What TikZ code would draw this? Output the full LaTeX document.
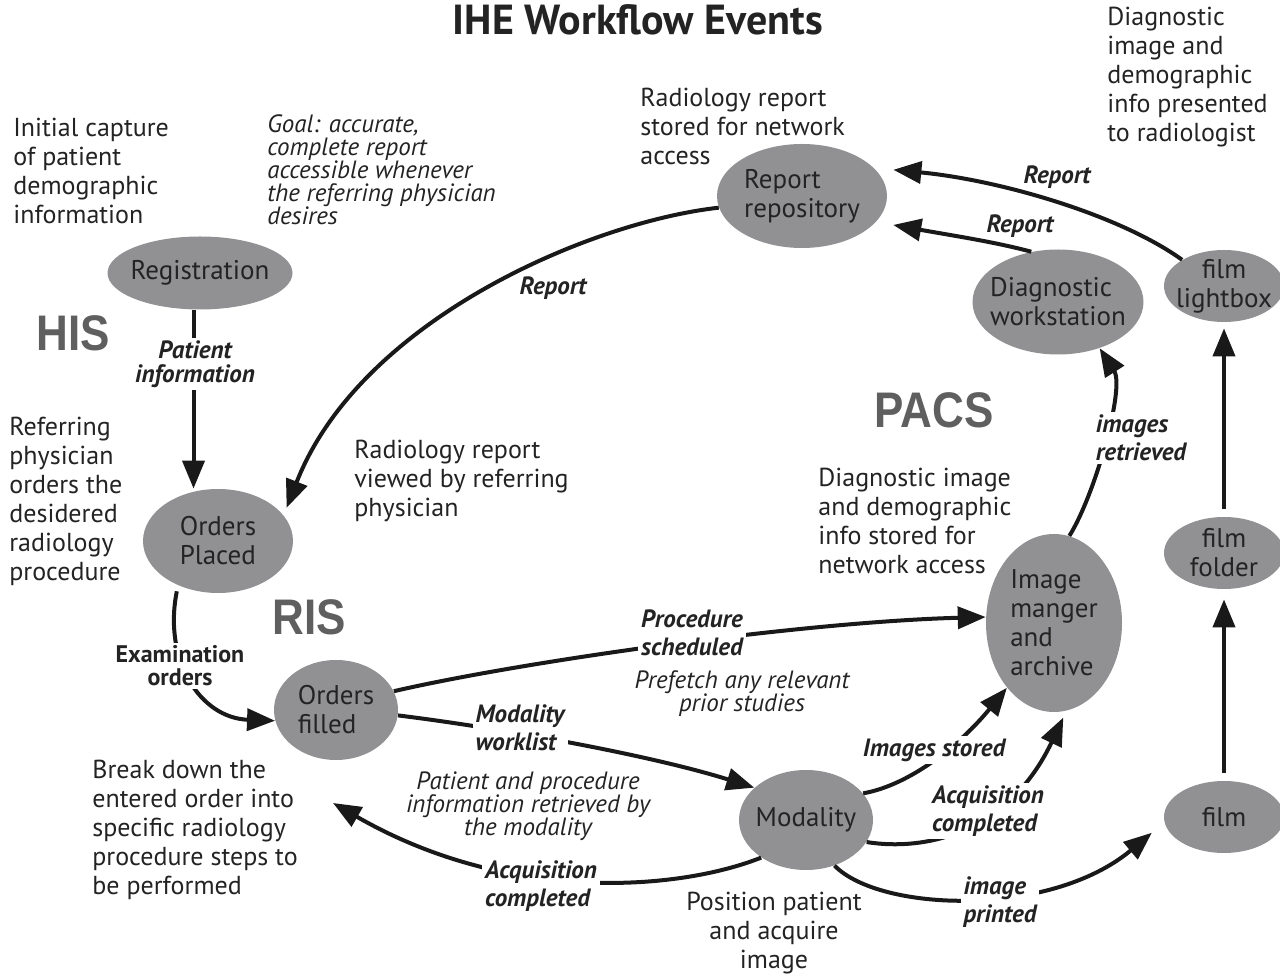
\documentclass[tikz,border=0pt]{standalone}
\usepackage{fontspec}
\usepackage{graphicx}
\setmainfont{PT Sans}
\newfontfamily\sysfont{Liberation Sans}
\usetikzlibrary{arrows.meta,shapes.geometric,calc}
\definecolor{nodegray}{RGB}{145,145,148}
\definecolor{txtdark}{RGB}{35,35,35}
\definecolor{sysgray}{RGB}{95,95,95}
\definecolor{linec}{RGB}{25,25,25}
\begin{document}
\begin{tikzpicture}[x=0.5pt,y=-0.5pt,
  ev/.style={ellipse, fill=nodegray, text=txtdark, inner sep=-8pt, font=\fontsize{13.5}{14.5}\selectfont, align=left},
  evc/.style={ev, align=center},
  note/.style={text=txtdark, font=\fontsize{13}{14.5}\selectfont, align=left, inner sep=0pt},
  inote/.style={text=txtdark, font=\fontsize{12.5}{11.5}\selectfont\itshape, align=left, inner sep=0pt},
  lab/.style={text=txtdark, font=\fontsize{12.5}{14}\selectfont\bfseries\itshape, align=left, inner sep=1.5pt, fill=white},
  sys/.style={text=sysgray, font=\sysfont\bfseries\fontsize{25}{25}\selectfont, inner sep=0pt},
  arr/.style={draw=linec, line width=2pt, -{Triangle[length=14pt,width=11pt]}},
]
\useasboundingbox (0,0) rectangle (1280,977);

% title
\node[text=txtdark, font=\fontsize{21}{22}\selectfont\bfseries] (title) at (638,20) {IHE Workflow Events};

% event nodes
\node[ev, minimum width=92.5pt, minimum height=36.5pt] (reg) at (200,273) {Registration};
\node[ev, minimum width=75pt, minimum height=52pt] (op) at (218,541) {Orders\\Placed};
\node[ev, minimum width=62pt, minimum height=50pt] (of) at (336,710) {Orders\\filled};
\node[ev, minimum width=85pt, minimum height=52pt] (rr) at (802,196) {Report\\repository};
\node[ev, minimum width=85.5pt, minimum height=52.5pt] (dw) at (1058,302) {Diagnostic\\workstation};
\node[evc, minimum width=60pt, minimum height=36pt] (lb) at (1224,286) {film\\lightbox};
\node[evc, minimum width=60pt, minimum height=36pt] (ff) at (1224,553) {film\\folder};
\node[evc, minimum width=60pt, minimum height=36pt] (fm) at (1224,817) {film};
\node[ev, minimum width=68pt, minimum height=89pt] (ima) at (1054,623) {Image\\manger\\and\\archive};
\node[ev, minimum width=67pt, minimum height=50pt] (mod) at (806,820) {Modality};

% system labels
\node[sys] (his) at (73,333) {\scalebox{0.88}[1]{HIS}};
\node[sys] (ris) at (309,617) {\scalebox{0.88}[1]{RIS}};
\node[sys] (pacs) at (934,410) {\scalebox{0.88}[1]{PACS}};

% notes
\node[note, anchor=west] (n1) at (13,171) {Initial capture\\of patient\\demographic\\information};
\node[inote, anchor=west] (n2) at (267,170) {Goal: accurate,\\complete report\\accessible whenever\\the referring physician\\desires};
\node[note, anchor=west] (n3) at (640,126) {Radiology report\\stored for network\\access};
\node[note, anchor=west] (n4) at (1107,77) {Diagnostic\\image and\\demographic\\info presented\\to radiologist};
\node[note, anchor=west] (n5) at (9,501) {Referring\\physician\\orders the\\desidered\\radiology\\procedure};
\node[note, anchor=west] (n6) at (354,481) {Radiology report\\viewed by referring\\physician};
\node[note, anchor=west] (n7) at (818,521) {Diagnostic image\\and demographic\\info stored for\\network access};
\node[note, anchor=west] (n8) at (92,830) {Break down the\\entered order into\\specific radiology\\procedure steps to\\be performed};
\node[note, align=center] (n9) at (774,933) {Position patient\\and acquire\\image};
\node[inote, align=center] (n10) at (742,694) {Prefetch any relevant\\prior studies};
\node[inote, align=center] (n11) at (528,806) {Patient and procedure\\information retrieved by\\the modality};
\coordinate (bdtip) at (333,803);

% connectors
\draw[arr] (reg.260) -- (reg.260 |- op.north);
\draw[arr] (rr.188) .. controls (590,222) and (360,320) .. ($(op.25)+(6,-4)$);
\draw[arr] (dw.118) .. controls (995,242) and (955,236) .. ($(rr.-15)+(13,8)$);
\draw[arr] (lb.148) .. controls (1120,215) and (1000,180) .. ($(rr.16)+(14,-4)$);
\draw[arr] (ima.80) .. controls (1095,495) and (1125,388) .. (dw.-48);
\draw[arr, shorten <=4pt, shorten >=3pt] (ff.north) -- (lb.south);
\draw[arr, shorten <=4pt, shorten >=5pt] (fm.north) -- (ff.south);
\draw[arr, shorten <=3pt] (op.228) .. controls (163,660) and (200,718) .. (of.190);
\draw[arr] (of.18) .. controls (520,662) and (800,622) .. (ima.175);
\draw[arr] (of.-5) .. controls (500,728) and (650,755) .. (mod.148);
\draw[arr] (mod.25) .. controls (910,785) and (960,745) .. (ima.234);
\draw[arr] (mod.-20) .. controls (930,852) and (1010,830) .. ($(ima.-84)+(0,6)$);
\draw[arr] (mod.220) .. controls (680,890) and (510,905) .. (bdtip);
\draw[arr] (mod.-58) .. controls (880,912) and (1050,918) .. ($(fm.195)+(-17,1)$);

% connector labels
\node[lab, align=center, font=\fontsize{12.5}{12}\selectfont\bfseries\itshape] (l1) at (195,364) {Patient\\information};
\node[lab, align=center, font=\fontsize{12}{11.5}\selectfont\bfseries] (l2) at (180,666) {Examination\\orders};
\node[lab] (l3) at (692,633) {Procedure\\scheduled};
\node[lab] (l4) at (520,728) {Modality\\worklist};
\node[lab] (l5) at (934,750) {Images stored};
\node[lab] (l6) at (988,811) {Acquisition\\completed};
\node[lab] (l7) at (541,886) {Acquisition\\completed};
\node[lab] (l8) at (1000,902) {image\\printed};
\node[lab] (l9) at (1141,438) {images\\retrieved};
\node[lab, fill=none] (l10) at (553,288) {Report};
\node[lab, fill=none] (l11) at (1020,226) {Report};
\node[lab, fill=none] (l12) at (1057,177) {Report};
\end{tikzpicture}
\end{document}
